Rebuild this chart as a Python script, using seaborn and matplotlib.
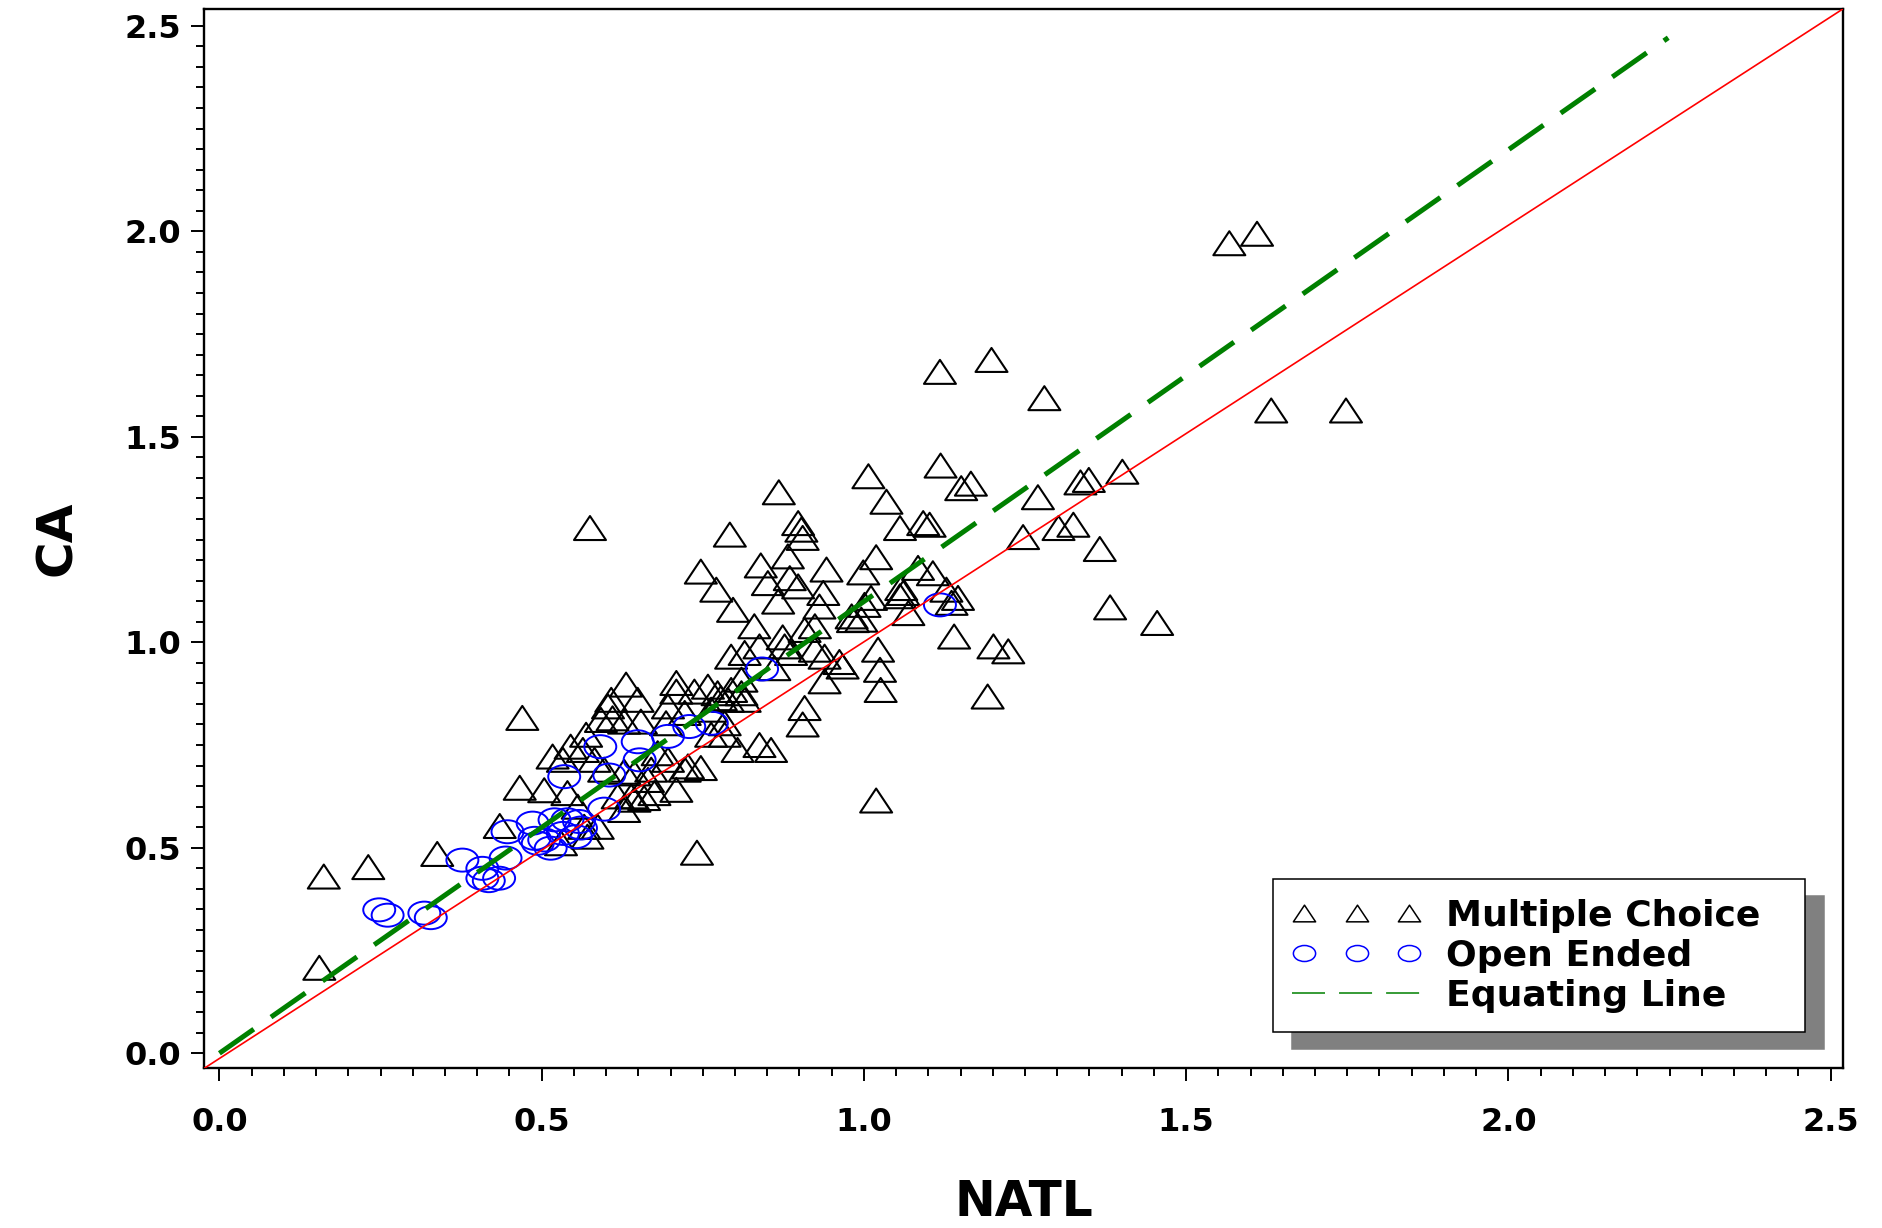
import numpy as np
import matplotlib
matplotlib.use("Agg")
import matplotlib.pyplot as plt
import seaborn as sns
from matplotlib.path import Path
from matplotlib.transforms import Affine2D
from matplotlib.lines import Line2D
from matplotlib.legend_handler import HandlerLine2D
from matplotlib.ticker import MultipleLocator, FormatStrFormatter

sns.set_style("white")
plt.rcParams["font.family"] = ["DejaVu Sans"]
plt.rcParams.update({"text.color": "black", "axes.labelcolor": "black",
                     "xtick.color": "black", "ytick.color": "black"})

# multiple choice items (NATL, CA)
mc_natl = [1.567, 1.610, 1.118, 1.198, 1.280, 1.632, 1.748, 1.119, 1.007, 1.401,
           1.336, 1.349, 1.151, 1.166, 0.868, 1.035, 1.270, 1.302, 1.325, 1.247,
           1.092, 1.102, 1.056, 0.898, 0.903, 0.905, 0.575, 0.792, 1.366, 0.882,
           1.019, 0.747, 0.840, 0.942, 0.999, 0.771, 0.851, 0.885, 0.898, 1.084,
           1.107, 1.128, 1.146, 1.136, 1.058, 1.061, 1.056, 0.797, 0.867, 0.937,
           0.931, 1.011, 0.981, 0.983, 1.069, 1.001, 0.996, 1.382, 1.455, 1.140,
           0.830, 0.908, 0.874, 0.877, 0.924, 0.924, 0.939, 0.962, 0.967, 0.815,
           0.794, 0.838, 1.022, 1.025, 1.026, 1.201, 1.224, 1.192, 0.939, 0.908,
           0.905, 0.861, 0.810, 0.794, 0.773, 0.758, 0.838, 0.856, 1.019, 0.741,
           0.470, 0.466, 0.504, 0.517, 0.435, 0.338, 0.231, 0.162, 0.155,
           0.631, 0.603, 0.592, 0.610, 0.628, 0.569, 0.545, 0.564, 0.533, 0.582,
           0.654, 0.693, 0.709, 0.709, 0.737, 0.778, 0.789, 0.810, 0.763, 0.784,
           0.747, 0.709, 0.665, 0.675, 0.644, 0.628, 0.680, 0.696, 0.763, 0.722,
           0.540, 0.556, 0.587, 0.649, 0.566, 0.571, 0.530, 0.597, 0.618, 0.639,
           0.659, 0.628, 0.727, 0.670, 0.644, 0.608, 0.696, 0.784, 0.815, 0.722,
           0.804, 0.887]
mc_ca = [1.971, 1.994, 1.658, 1.687, 1.594, 1.564, 1.564, 1.430, 1.404, 1.415,
         1.389, 1.395, 1.375, 1.386, 1.365, 1.342, 1.353, 1.278, 1.286, 1.256,
         1.290, 1.286, 1.278, 1.290, 1.274, 1.254, 1.278, 1.262, 1.227, 1.209,
         1.207, 1.172, 1.187, 1.177, 1.170, 1.128, 1.144, 1.156, 1.136, 1.181,
         1.168, 1.128, 1.108, 1.096, 1.132, 1.120, 1.112, 1.079, 1.099, 1.120,
         1.087, 1.108, 1.063, 1.054, 1.071, 1.091, 1.055, 1.085, 1.047, 1.014,
         1.039, 1.030, 1.012, 0.990, 1.039, 0.982, 0.965, 0.952, 0.941, 0.974,
         0.965, 0.990, 0.982, 0.933, 0.884, 0.990, 0.978, 0.868, 0.905, 0.840,
         0.800, 0.937, 0.909, 0.884, 0.876, 0.892, 0.750, 0.738, 0.615, 0.488,
         0.816, 0.646, 0.640, 0.722, 0.553, 0.485, 0.453, 0.430, 0.208,
         0.897, 0.844, 0.811, 0.815, 0.807, 0.775, 0.746, 0.738, 0.714, 0.714,
         0.807, 0.803, 0.901, 0.880, 0.880, 0.864, 0.860, 0.876, 0.775, 0.775,
         0.694, 0.641, 0.665, 0.633, 0.617, 0.685, 0.730, 0.714, 0.836, 0.828,
         0.633, 0.600, 0.551, 0.860, 0.551, 0.527, 0.511, 0.690, 0.625, 0.625,
         0.621, 0.592, 0.698, 0.690, 0.681, 0.860, 0.844, 0.803, 0.860, 0.690,
         0.738, 0.974]

# open ended items (NATL, CA)
oe_natl = [0.248, 0.261, 0.318, 0.328, 0.377, 0.408, 0.408, 0.418, 0.434, 0.444,
           0.447, 0.486, 0.489, 0.494, 0.504, 0.514, 0.520, 0.533, 0.535, 0.540,
           0.553, 0.558, 0.561, 0.591, 0.597, 0.605, 0.649, 0.652, 0.696, 0.729,
           0.764, 0.842, 1.118]
oe_ca = [0.349, 0.336, 0.341, 0.330, 0.470, 0.450, 0.426, 0.420, 0.426, 0.475,
         0.539, 0.560, 0.523, 0.511, 0.519, 0.499, 0.568, 0.535, 0.673, 0.568,
         0.527, 0.564, 0.548, 0.746, 0.594, 0.677, 0.758, 0.714, 0.771, 0.795,
         0.803, 0.935, 1.091]

# equating line end points
eq_natl = [0.0, 2.248]
eq_ca = [0.0, 2.471]

x_lim = (-0.024, 2.519)
y_lim = (-0.037, 2.541)

legend_labels = ["Multiple Choice", "Open Ended", "Equating Line"]

tri_marker = Path([(-1, -0.75), (1, -0.75), (0, 0.75), (-1, -0.75)],
                  [Path.MOVETO, Path.LINETO, Path.LINETO, Path.CLOSEPOLY])
oval_marker = Path.unit_circle().transformed(Affine2D().scale(1, 0.72))

fig = plt.figure(figsize=(18.83, 12.28), dpi=100)
ax = fig.add_axes([0.1083, 0.1299, 0.8704, 0.8628])

sns.scatterplot(x=mc_natl, y=mc_ca, marker=tri_marker, s=530, color="black",
                facecolor="none", edgecolor="black", linewidth=1.5, legend=False, ax=ax, zorder=2)
sns.scatterplot(x=oe_natl, y=oe_ca, marker=oval_marker, s=530, color="blue",
                facecolor="none", edgecolor="#0000ff", linewidth=1.4, legend=False, ax=ax, zorder=3)

sns.lineplot(x=list(x_lim), y=list(y_lim), color="#ff0000", linewidth=1.2, ax=ax, zorder=4)
sns.lineplot(x=eq_natl, y=eq_ca, color="#008000", linewidth=3.6,
             linestyle=(0, (8.4, 4.2)), dash_capstyle="butt", ax=ax, zorder=5)

ax.set_xlim(*x_lim)
ax.set_ylim(*y_lim)
ax.xaxis.set_major_locator(MultipleLocator(0.5))
ax.xaxis.set_minor_locator(MultipleLocator(0.05))
ax.yaxis.set_major_locator(MultipleLocator(0.5))
ax.yaxis.set_minor_locator(MultipleLocator(0.05))
ax.xaxis.set_major_formatter(FormatStrFormatter("%.1f"))
ax.yaxis.set_major_formatter(FormatStrFormatter("%.1f"))

ax.tick_params(which="both", direction="out", width=1.4, color="black",
               bottom=True, left=True, top=False, right=False)
ax.tick_params(which="major", length=9.6)
ax.tick_params(which="minor", length=5.5)
ax.tick_params(axis="x", which="major", pad=18)
ax.tick_params(axis="y", which="major", pad=7)
for lab in ax.get_xticklabels() + ax.get_yticklabels():
    lab.set_fontsize(23)
    lab.set_fontweight("bold")

for sp in ax.spines.values():
    sp.set_color("black")
    sp.set_linewidth(1.7)

ax.set_xlabel("NATL", fontsize=35, fontweight="bold", va="baseline")
ax.set_ylabel("CA", fontsize=36, fontweight="bold", va="center")
ax.xaxis.set_label_coords(0.5, -0.139)
ax.yaxis.set_label_coords(-0.0897, 0.5)

h_mc = Line2D([], [], linestyle="none", marker=tri_marker, markersize=16,
              markerfacecolor="none", markeredgecolor="black", markeredgewidth=1.1)
h_oe = Line2D([], [], linestyle="none", marker=oval_marker, markersize=16,
              markerfacecolor="none", markeredgecolor="#0000ff", markeredgewidth=1.1)
h_eq = Line2D([], [], color="#008000", linewidth=1.1, dashes=(21.6, 9.2))

leg = ax.legend([h_mc, h_oe, h_eq], legend_labels,
                loc="lower left", bbox_to_anchor=(0.652, 0.034, 0.3246, 0.1454),
                mode="expand", borderaxespad=0, borderpad=0.55,
                labelspacing=0.16, handlelength=3.57, handletextpad=0.69,
                numpoints=3, fancybox=False, framealpha=1, edgecolor="black",
                prop={"weight": "bold", "size": 26},
                shadow={"ox": 14, "oy": -12, "facecolor": "#808080",
                        "edgecolor": "#808080", "alpha": 1},
                handler_map={h_mc: HandlerLine2D(marker_pad=0.33, numpoints=3),
                             h_oe: HandlerLine2D(marker_pad=0.33, numpoints=3),
                             h_eq: HandlerLine2D(marker_pad=0.0, numpoints=3)})
leg.get_frame().set_linewidth(1.1)

fig.savefig("out.png", dpi=100, facecolor="white")
